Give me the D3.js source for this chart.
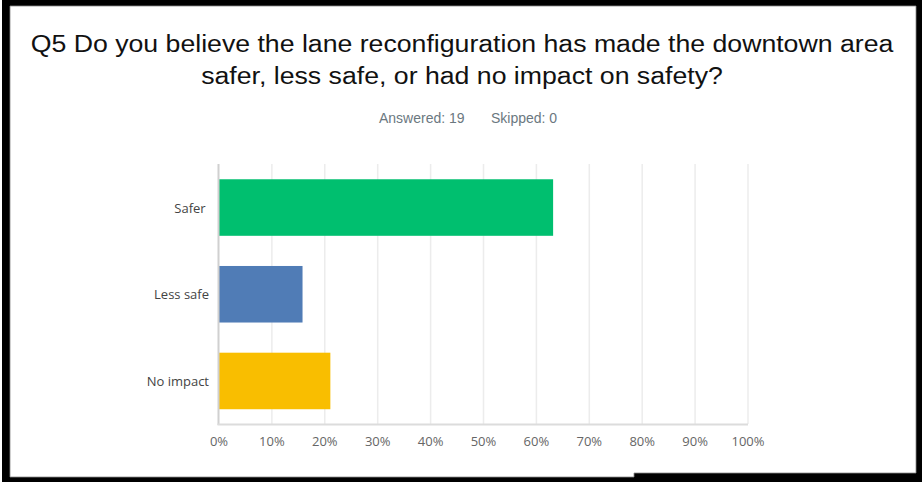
<!DOCTYPE html>
<html>

<head>
  <style>
    body {
      margin: 0;
      background: #fff;
    }
    text {
      white-space: pre;
    }
  </style>
</head>

<body>
  <svg width="922" height="482"></svg>
  <script src="https://d3js.org/d3.v7.min.js"></script>
  <script>
    // survey answers, percent of 19 respondents
    const categories = ["Safer ", "Less safe", "No impact"];
    const values = [63.16, 15.79, 21.05];
    const barColors = ["#00BF6F", "#507CB6", "#F9BE00"];
    const tickValues = [0, 10, 20, 30, 40, 50, 60, 70, 80, 90, 100];
    const titleLines = [
      "Q5 Do you believe the lane reconfiguration has made the downtown area",
      "safer, less safe, or had no impact on safety?"
    ];
    const answered = 19;
    const skipped = 0;

    const width = 922;
    const height = 482;

    const svg = d3.select("svg")
      .attr("viewBox", [0, 0, width, height]);

    // black frame round the screenshot, with the step at the bottom
    svg.append("rect")
      .attr("x", 2)
      .attr("y", 0)
      .attr("width", width - 2)
      .attr("height", height)
      .attr("fill", "#000");

    svg.append("path")
      .attr("d", "M10,6 H916 V473 H634 V477 H10 Z")
      .attr("fill", "#fff")
      .attr("stroke", "#888")
      .attr("stroke-width", 0.8);

    // the screenshot is a bit stretched sideways
    const titleX = 462;
    const title = svg.append("g")
      .attr("transform", `translate(${titleX},0) scale(1.16,1)`)
      .attr("font-family", "Liberation Sans, Arial, sans-serif")
      .attr("font-size", "23px")
      .attr("fill", "#111")
      .attr("text-anchor", "middle");

    title.selectAll("text")
      .data(titleLines)
      .join("text")
      .attr("x", 0)
      .attr("y", (d, i) => 52 + i * 32)
      .text(d => d);

    const sub = svg.append("g")
      .attr("font-family", "Liberation Sans, Arial, sans-serif")
      .attr("font-size", "14px")
      .attr("fill", "#6b787f");
    sub.append("text")
      .attr("x", 379)
      .attr("y", 123)
      .text(`Answered: ${answered}`);
    sub.append("text")
      .attr("x", 491)
      .attr("y", 123)
      .text(`Skipped: ${skipped}`);

    const x = d3.scaleLinear()
      .domain([0, 100])
      .range([219, 748]);

    const y = d3.scaleBand()
      .domain(categories)
      .range([164, 424.5])
      .paddingInner(0.348)
      .paddingOuter(0.176);

    // grid
    svg.append("g")
      .selectAll("line")
      .data(tickValues.slice(1))
      .join("line")
      .attr("x1", d => x(d))
      .attr("x2", d => x(d))
      .attr("y1", 164)
      .attr("y2", 424)
      .attr("stroke", "#ececec")
      .attr("stroke-width", 1.5);

    // bars
    svg.append("g")
      .selectAll("rect")
      .data(categories)
      .join("rect")
      .attr("x", x(0))
      .attr("y", d => y(d))
      .attr("width", (d, i) => x(values[i]) - x(0))
      .attr("height", y.bandwidth())
      .attr("fill", (d, i) => barColors[i]);

    // axis lines
    svg.append("line")
      .attr("x1", x(0) - 0.5)
      .attr("x2", x(0) - 0.5)
      .attr("y1", 164)
      .attr("y2", 425)
      .attr("stroke", "#d0d0d0")
      .attr("stroke-width", 2);
    svg.append("line")
      .attr("x1", x(0) - 1.5)
      .attr("x2", x(100))
      .attr("y1", 424.5)
      .attr("y2", 424.5)
      .attr("stroke", "#dcdcdc")
      .attr("stroke-width", 2);

    // tick labels
    svg.append("g")
      .attr("font-family", "Open Sans, sans-serif")
      .attr("font-size", "13px")
      .attr("fill", "#666")
      .attr("text-anchor", "middle")
      .selectAll("text")
      .data(tickValues)
      .join("text")
      .attr("x", d => x(d))
      .attr("y", 446)
      .text(d => d + "%");

    // category labels
    svg.append("g")
      .attr("font-family", "Open Sans, sans-serif")
      .attr("font-size", "13px")
      .attr("fill", "#444")
      .attr("text-anchor", "end")
      .selectAll("text")
      .data(categories)
      .join("text")
      .attr("x", 209)
      .attr("y", d => y(d) + y.bandwidth() / 2)
      .attr("dominant-baseline", "central")
      .text(d => d);
  </script>
</body>

</html>
